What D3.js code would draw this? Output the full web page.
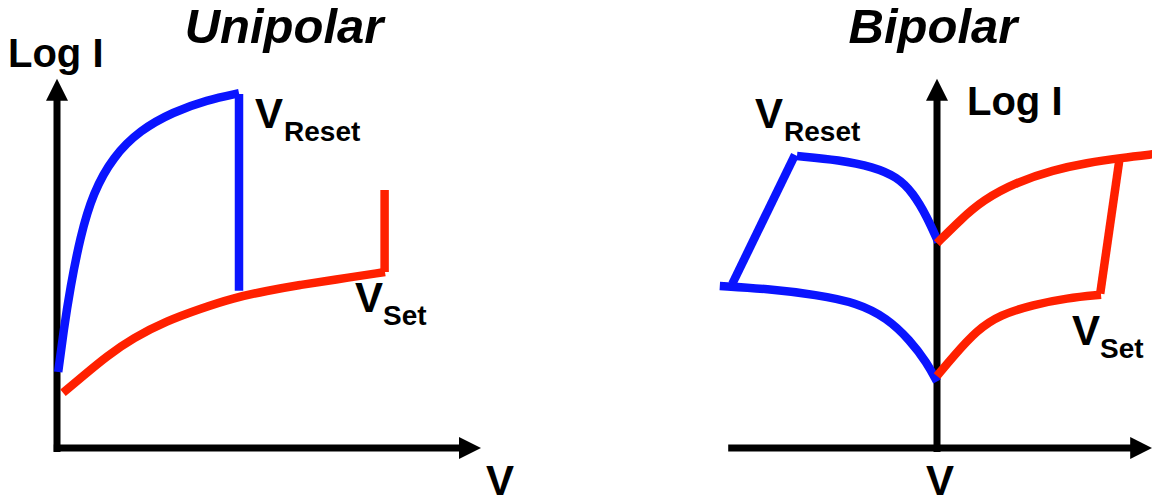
<!DOCTYPE html>
<html>
<head>
<meta charset="utf-8">
<script src="https://cdn.jsdelivr.net/npm/d3@7/dist/d3.min.js"></script>
<style>
  html, body { margin: 0; padding: 0; background: #fff; }
  svg { display: block; }
  text { font-family: "Liberation Sans", Arial, Helvetica, sans-serif; font-weight: bold; fill: #000; }
</style>
</head>
<body>
<svg id="chart" width="1152" height="497"></svg>
<script>
// ---- Unipolar switching: [V, log I] in schematic units ----
const uniLRS = [[0.03,1.9],[0.16,2.9],[0.33,4.0],[0.58,5.28],[0.9,6.38],[1.4,7.28],
                [2.08,7.95],[2.9,8.4],[3.75,8.7],[4.55,8.87]];
const uniReset = [[4.55,8.85],[4.55,3.93]];
const uniHRS = [[0.15,1.38],[0.65,1.8],[1.25,2.3],[1.9,2.75],[2.75,3.18],[3.58,3.48],
                [4.4,3.75],[5.25,3.93],[6.08,4.08],[6.9,4.2],[8.2,4.4]];
const uniSet = [[8.19,4.4],[8.19,6.45]];

// ---- Bipolar switching ----
const biResetBranch = [[0.03,5.15],[-0.25,5.78],[-0.6,6.38],[-1.0,6.78],[-1.6,7.03],
                       [-2.43,7.2],[-3.5,7.3]];
const biResetDrop = [[-3.55,7.33],[-5.12,4.1]];
const biNegHRS = [[-5.43,4.05],[-4.25,3.98],[-3.0,3.83],[-2.0,3.63],[-1.25,3.25],
                  [-0.68,2.7],[-0.25,2.13],[0.0,1.66]];
const biPosLRS = [[0.0,5.12],[0.58,5.7],[1.15,6.2],[2.0,6.65],[2.9,6.95],[3.75,7.13],
                  [4.58,7.25],[5.45,7.35]];
const biPosHRS = [[0.0,1.8],[0.4,2.28],[1.0,2.95],[1.58,3.33],[2.4,3.58],[3.25,3.75],[4.1,3.83]];
const biSetJump = [[4.08,3.86],[4.57,7.28]];

// ---- Text ----
const titles = ["Unipolar", "Bipolar"];
const axisLabels = ["Log I", "V"];
const markers = [["V", "Reset"], ["V", "Set"]];

const BLUE = "#0a14ff", RED = "#ff2000";
const svg = d3.select("#chart");

const yI = d3.scaleLinear().domain([0, 10]).range([448, 48]);
const xU = d3.scaleLinear().domain([0, 10]).range([57, 457]);
const xB = d3.scaleLinear().domain([-5, 5]).range([737, 1137]);

function arrowAxis(x1, y1, x2, y2) {
  const L = 22, W = 11;
  const dx = x2 - x1, dy = y2 - y1, len = Math.hypot(dx, dy);
  const ux = dx / len, uy = dy / len;
  const bx = x2 - ux * L, by = y2 - uy * L;
  svg.append("line").attr("x1", x1).attr("y1", y1).attr("x2", bx + ux).attr("y2", by + uy)
    .attr("stroke", "#000").attr("stroke-width", 7);
  svg.append("path")
    .attr("d", `M${x2},${y2}L${bx - uy * W},${by + ux * W}L${bx + uy * W},${by - ux * W}Z`)
    .attr("fill", "#000");
}

function curve(xs, pts, color, smooth) {
  const line = d3.line().x(d => xs(d[0])).y(d => yI(d[1]))
    .curve(smooth ? d3.curveBasis : d3.curveLinear);
  svg.append("path").datum(pts).attr("d", line)
    .attr("fill", "none").attr("stroke", color).attr("stroke-width", 8.5)
    .attr("stroke-linecap", "butt").attr("stroke-linejoin", "miter");
}

function subLabel(x, y, pair, dx) {
  const t = svg.append("text").attr("x", x).attr("y", y).attr("font-size", 42);
  t.append("tspan").text(pair[0]);
  t.append("tspan").attr("font-size", 28).attr("dx", dx).attr("dy", 13).text(pair[1]);
}

// Unipolar axes
arrowAxis(xU(0), yI(-0.1), xU(0), yI(9.23));
arrowAxis(xU(-0.08), yI(0), xU(10.6), yI(0));
// Bipolar axes
arrowAxis(xB(0), yI(-0.1), xB(0), yI(9.23));
arrowAxis(xB(-5.22), yI(0), xB(5.38), yI(0));

// Unipolar curves
curve(xU, uniLRS, BLUE, true);
curve(xU, uniReset, BLUE, false);
curve(xU, uniHRS, RED, true);
curve(xU, uniSet, RED, false);

// Bipolar curves
curve(xB, biResetBranch, BLUE, true);
curve(xB, biResetDrop, BLUE, false);
curve(xB, biNegHRS, BLUE, true);
curve(xB, biPosLRS, RED, true);
curve(xB, biPosHRS, RED, true);
curve(xB, biSetJump, RED, false);

// Titles
svg.append("text").attr("x", 284).attr("y", 43).attr("text-anchor", "middle")
  .attr("font-size", 49).attr("font-style", "italic").text(titles[0]);
svg.append("text").attr("x", 933).attr("y", 43).attr("text-anchor", "middle")
  .attr("font-size", 49).attr("font-style", "italic").text(titles[1]);

// Axis labels
svg.append("text").attr("x", 8).attr("y", 67).attr("font-size", 40).text(axisLabels[0]);
svg.append("text").attr("x", 967).attr("y", 115).attr("font-size", 40).text(axisLabels[0]);
svg.append("text").attr("x", 500).attr("y", 495).attr("text-anchor", "middle").attr("font-size", 42).text(axisLabels[1]);
svg.append("text").attr("x", 940).attr("y", 495).attr("text-anchor", "middle").attr("font-size", 42).text(axisLabels[1]);

// Switching voltage markers
subLabel(255, 128, markers[0], 1);
subLabel(355, 312, markers[1], 0);
subLabel(755, 128, markers[0], 1);
subLabel(1072, 345, markers[1], 0);
</script>
</body>
</html>
